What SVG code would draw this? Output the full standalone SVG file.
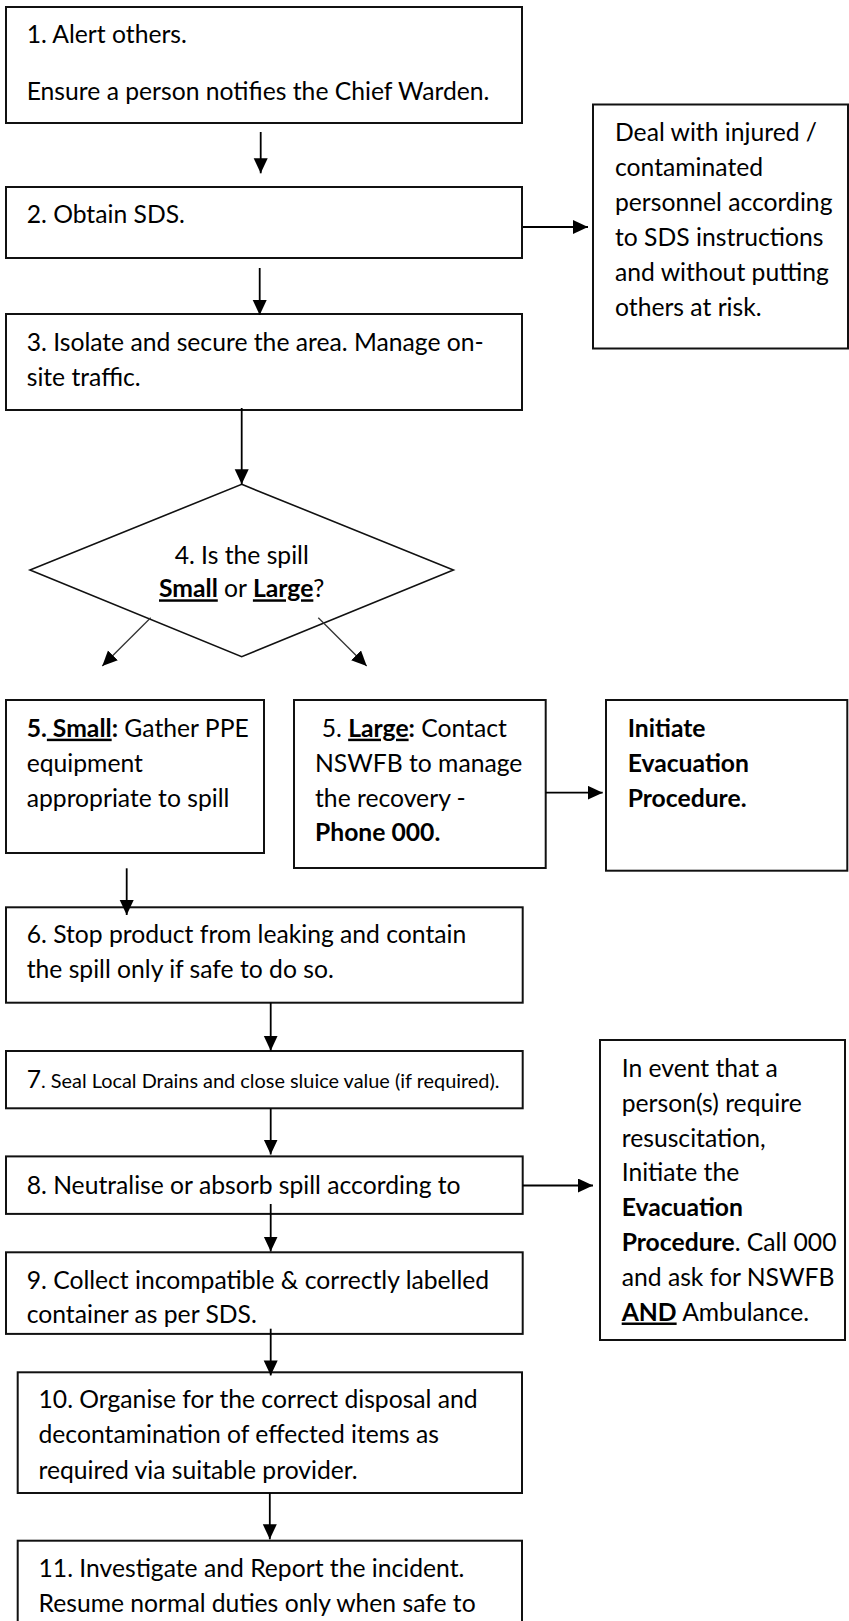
<svg xmlns="http://www.w3.org/2000/svg" width="849" height="1621" viewBox="0 0 849 1621">
<style>
.box{fill:#fff;stroke:#111;stroke-width:2}
.t{font-family:Lato,"Liberation Sans",sans-serif;font-size:24.7px;fill:#000}
.s{font-size:19.9px}
.b{font-weight:bold}
.u{text-decoration:underline}
.c{stroke:#000;stroke-width:1.8;fill:none;marker-end:url(#ah)}
.d{stroke:#333;stroke-width:1.3;fill:none;marker-end:url(#ah)}
</style>
<defs>
<marker id="ah" markerUnits="userSpaceOnUse" markerWidth="16" markerHeight="16" refX="15" refY="7" orient="auto">
<path d="M0,0 L15,7 L0,14 z" fill="#000"/>
</marker>
</defs>
<rect width="849" height="1621" fill="#fff"/>

<g id="n1">
<rect class="box" x="6" y="7" width="516" height="116"/>
<text class="t" x="26.7" y="43.3">1. Alert others.</text>
<text class="t" x="26.7" y="100">Ensure a person notifies the Chief Warden.</text>
</g>
<g id="n2">
<rect class="box" x="6" y="187" width="516" height="71"/>
<text class="t" x="26.7" y="222.7">2. Obtain SDS.</text>
</g>
<g id="n2b">
<rect class="box" x="593" y="104.5" width="255" height="244"/>
<text class="t" x="615" y="140.5">Deal with injured /</text>
<text class="t" x="615" y="175.5">contaminated</text>
<text class="t" x="615" y="210.5">personnel according</text>
<text class="t" x="615" y="245.5">to SDS instructions</text>
<text class="t" x="615" y="280.5">and without putting</text>
<text class="t" x="615" y="315.5">others at risk.</text>
</g>
<g id="n3">
<rect class="box" x="6" y="314" width="516" height="96"/>
<text class="t" x="26.7" y="350.7">3. Isolate and secure the area. Manage on-</text>
<text class="t" x="26.7" y="386">site traffic.</text>
</g>
<g id="n4">
<polygon points="241.7,484.3 453.4,570 241.7,656.7 30,570" fill="#fff" stroke="#111" stroke-width="1.6"/>
<text class="t" x="241.7" y="564" text-anchor="middle">4. Is the spill</text>
<text class="t" x="241.7" y="597.3" text-anchor="middle"><tspan class="b u">Small</tspan> or <tspan class="b u">Large</tspan>?</text>
</g>
<g id="n5s">
<rect class="box" x="6" y="700" width="258" height="153"/>
<text class="t" x="26.7" y="736.7"><tspan class="b">5.</tspan><tspan class="b u" xml:space="preserve"> Small</tspan><tspan class="b">:</tspan> Gather PPE</text>
<text class="t" x="26.7" y="771.7">equipment</text>
<text class="t" x="26.7" y="806.7">appropriate to spill</text>
</g>
<g id="n5l">
<rect class="box" x="294" y="700" width="251.7" height="168"/>
<text class="t" x="321.7" y="736.7">5. <tspan class="b u">Large</tspan><tspan class="b">:</tspan> Contact</text>
<text class="t" x="315" y="771.7">NSWFB to manage</text>
<text class="t" x="315" y="806.7">the recovery -</text>
<text class="t b" x="315" y="841">Phone 000.</text>
</g>
<g id="n5e">
<rect class="box" x="606" y="700" width="241.3" height="170.7"/>
<text class="t b" x="627.7" y="737.3">Initiate</text>
<text class="t b" x="627.7" y="771.7">Evacuation</text>
<text class="t b" x="627.7" y="806.7">Procedure.</text>
</g>
<g id="n6">
<rect class="box" x="6" y="907.3" width="516.7" height="95.4"/>
<text class="t" x="26.7" y="943.3">6. Stop product from leaking and contain</text>
<text class="t" x="26.7" y="978.3">the spill only if safe to do so.</text>
</g>
<g id="n7">
<rect class="box" x="6" y="1051" width="516.7" height="57.3"/>
<text class="t" x="26.7" y="1088">7<tspan class="s">. Seal Local Drains and close sluice value (if required).</tspan></text>
</g>
<g id="n8">
<rect class="box" x="6" y="1156.4" width="516.7" height="57.5"/>
<text class="t" x="26.7" y="1194">8. Neutralise or absorb spill according to</text>
</g>
<g id="n8b">
<rect class="box" x="600" y="1040" width="245" height="300"/>
<text class="t" x="621.7" y="1076.7">In event that a</text>
<text class="t" x="621.7" y="1111.7">person(s) require</text>
<text class="t" x="621.7" y="1146.7">resuscitation,</text>
<text class="t" x="621.7" y="1181.3">Initiate the</text>
<text class="t b" x="621.7" y="1216">Evacuation</text>
<text class="t" x="621.7" y="1251"><tspan class="b">Procedure</tspan>. Call 000</text>
<text class="t" x="621.7" y="1285.7">and ask for NSWFB</text>
<text class="t" x="621.7" y="1320.5"><tspan class="b u">AND</tspan> Ambulance.</text>
</g>
<g id="n9">
<rect class="box" x="6" y="1252.3" width="516.7" height="81.6"/>
<text class="t" x="26.7" y="1288.5">9. Collect incompatible &amp; correctly labelled</text>
<text class="t" x="26.7" y="1323">container as per SDS.</text>
</g>
<g id="n10">
<rect class="box" x="17.7" y="1372.3" width="504.3" height="120.7"/>
<text class="t" x="38.5" y="1408.3">10. Organise for the correct disposal and</text>
<text class="t" x="38.5" y="1443.3">decontamination of effected items as</text>
<text class="t" x="38.5" y="1479">required via suitable provider.</text>
</g>
<g id="n11">
<rect class="box" x="17.7" y="1540.7" width="504.3" height="110"/>
<text class="t" x="38.5" y="1577.3">11. Investigate and Report the incident.</text>
<text class="t" x="38.5" y="1611.7">Resume normal duties only when safe to</text>
</g>

<g id="connectors">
<line class="c" x1="260.7" y1="132" x2="260.7" y2="173.3"/>
<line class="c" x1="259.7" y1="268" x2="259.7" y2="315"/>
<line class="c" x1="523" y1="227" x2="588" y2="227"/>
<line class="c" x1="241.7" y1="408" x2="241.7" y2="484.3"/>
<line class="d" x1="150.7" y1="617.7" x2="102.3" y2="666"/>
<line class="d" x1="318.3" y1="617.7" x2="366.7" y2="666"/>
<line class="c" x1="545.7" y1="792.7" x2="602.7" y2="792.7"/>
<line class="c" x1="126.7" y1="868.3" x2="126.7" y2="915"/>
<line class="c" x1="270.7" y1="1002.7" x2="270.7" y2="1050.7"/>
<line class="c" x1="270.7" y1="1108.3" x2="270.7" y2="1154.5"/>
<line class="c" x1="270.7" y1="1204" x2="270.7" y2="1251.5"/>
<line class="c" x1="522.7" y1="1185.5" x2="593" y2="1185.5"/>
<line class="c" x1="270.7" y1="1328.7" x2="270.7" y2="1375.4"/>
<line class="c" x1="269.8" y1="1493" x2="269.8" y2="1539.3"/>
</g>
</svg>
